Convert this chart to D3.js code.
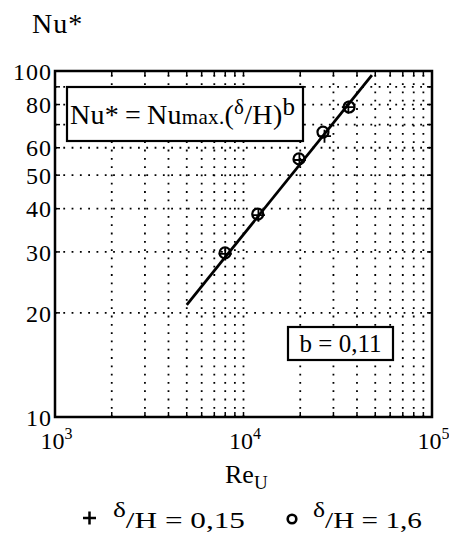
<!DOCTYPE html>
<html><head><meta charset="utf-8">
<script src="https://cdn.jsdelivr.net/npm/d3@7"></script>
<style>body{margin:0;background:#fff} svg{display:block} text{font-family:"Liberation Serif",serif;fill:#000}</style>
</head><body><svg id="c" width="449" height="542"></svg>
<script>
// ---- data ----
const reCircle = [7980, 11900, 19700, 26400, 36300];
const nuCircle = [29.8, 38.6, 55.7, 66.6, 78.7];
const rePlus = [8000, 12000, 19800, 26900, 36000];
const nuPlus = [29.6, 38.3, 55.3, 64.8, 78.6];
const fitRe = [5000, 48000];
const fitNu = [21.1, 97.3];
const yTickLabels = [10, 20, 30, 40, 50, 60, 80, 100];
const xTickExps = [3, 4, 5];
const yGrid = [20, 30, 40, 50, 60, 70, 80, 90];
const xGrid = [2000, 3000, 4000, 5000, 6000, 7000, 8000, 9000, 10000,
               20000, 30000, 40000, 50000, 60000, 70000, 80000, 90000];
const legendLabels = ["0,15", "1,6"];

// ---- layout ----
const L = 55, R = 432, T = 71, B = 417;
const svg = d3.select("#c");
const x = d3.scaleLog().domain([1e3, 1e5]).range([L, R]);
const y = d3.scaleLog().domain([10, 100]).range([B, T]);

// grid
const g = svg.append("g");
g.selectAll("line.gx").data(xGrid).join("line")
  .attr("x1", d => x(d)).attr("x2", d => x(d)).attr("y1", B).attr("y2", T)
  .attr("stroke", "#000").attr("stroke-width", 1.8).attr("stroke-dasharray", "1.8,6.5");
g.selectAll("line.gy").data(yGrid).join("line")
  .attr("y1", d => y(d)).attr("y2", d => y(d)).attr("x1", L).attr("x2", R)
  .attr("stroke", "#000").attr("stroke-width", 1.8).attr("stroke-dasharray", "1.8,6.5");

// inner ticks
const tk = 5;
g.selectAll("line.tl").data(yGrid).join("line")
  .attr("x1", L).attr("x2", L + tk).attr("y1", d => y(d)).attr("y2", d => y(d))
  .attr("stroke", "#000").attr("stroke-width", 1.5);
g.selectAll("line.tr").data(yGrid).join("line")
  .attr("x1", R).attr("x2", R - tk).attr("y1", d => y(d)).attr("y2", d => y(d))
  .attr("stroke", "#000").attr("stroke-width", 1.5);
g.selectAll("line.tb").data(xGrid).join("line")
  .attr("x1", d => x(d)).attr("x2", d => x(d)).attr("y1", B).attr("y2", B - tk)
  .attr("stroke", "#000").attr("stroke-width", 1.5);
g.selectAll("line.tt").data(xGrid).join("line")
  .attr("x1", d => x(d)).attr("x2", d => x(d)).attr("y1", T).attr("y2", T + tk)
  .attr("stroke", "#000").attr("stroke-width", 1.5);

// frame
svg.append("rect").attr("x", L).attr("y", T).attr("width", R - L).attr("height", B - T)
  .attr("fill", "none").attr("stroke", "#000").attr("stroke-width", 2.5);

// y axis labels
const ya = svg.append("g").attr("transform", `translate(${L - 3},0)`)
  .call(d3.axisLeft(y).tickValues(yTickLabels).tickSize(0).tickPadding(0).tickFormat(d3.format("d")));
ya.select(".domain").remove();
ya.selectAll("text").attr("font-family", "Liberation Serif").attr("font-size", 24)
  .attr("letter-spacing", 1).attr("fill", "#000").attr("dy", "0.34em");

// x axis labels
const xa = svg.append("g").attr("transform", `translate(0,${B})`)
  .call(d3.axisBottom(x).tickValues(xTickExps.map(e => Math.pow(10, e))).tickSize(0).tickFormat(""));
xa.select(".domain").remove();
xa.selectAll(".tick").each(function(d, i) {
  const t = d3.select(this).append("text").attr("x", -15).attr("y", 32)
    .attr("text-anchor", "start").attr("font-family", "Liberation Serif").attr("fill", "#000");
  t.append("tspan").attr("font-size", 24).text("10");
  t.append("tspan").attr("font-size", 16).attr("dy", -10).text(xTickExps[i]);
});

// fit line
svg.append("path")
  .attr("d", d3.line().x(d => x(d[0])).y(d => y(d[1]))(fitRe.map((r, i) => [r, fitNu[i]])))
  .attr("stroke", "#000").attr("stroke-width", 2.8).attr("fill", "none");

// markers
svg.selectAll("circle.pt").data(reCircle).join("circle")
  .attr("cx", d => x(d)).attr("cy", (d, i) => y(nuCircle[i])).attr("r", 5.5)
  .attr("fill", "none").attr("stroke", "#000").attr("stroke-width", 2.2);
const ps = 6.5;
svg.selectAll("path.plus").data(rePlus).join("path")
  .attr("d", (d, i) => { const cx = x(d), cy = y(nuPlus[i]);
    return `M${cx - ps},${cy}H${cx + ps}M${cx},${cy - ps}V${cy + ps}`; })
  .attr("stroke", "#000").attr("stroke-width", 1.8).attr("fill", "none");

// formula box
svg.append("rect").attr("x", 67).attr("y", 87).attr("width", 236).attr("height", 54)
  .attr("fill", "#fff").attr("stroke", "#000").attr("stroke-width", 2.2);
const f = svg.append("text").attr("x", 70).attr("y", 124).attr("font-size", 28).attr("letter-spacing", 0.3);
f.append("tspan").text("Nu*\u2009=\u2009Nu");
f.append("tspan").attr("font-size", 21).text("max.");
f.append("tspan").text("(");
f.append("tspan").attr("font-size", 21).attr("dy", -10).text("δ");
f.append("tspan").attr("dy", 10).text("/H)");
f.append("tspan").attr("font-size", 25).attr("dy", -9).text("b");

// b box
svg.append("rect").attr("x", 288).attr("y", 327).attr("width", 105).attr("height", 33)
  .attr("fill", "#fff").attr("stroke", "#000").attr("stroke-width", 2.2);
svg.append("text").attr("x", 340.5).attr("y", 352).attr("text-anchor", "middle")
  .attr("font-size", 25).text("b = 0,11");

// titles
svg.append("text").attr("x", 32).attr("y", 33).attr("font-size", 28).attr("letter-spacing", 1).text("Nu*");
const xt = svg.append("text").attr("x", 225).attr("y", 483).attr("font-size", 26);
xt.append("tspan").text("Re");
xt.append("tspan").attr("font-size", 19).attr("dy", 6).text("U");

// legend
svg.append("path").attr("d", "M83,518H96M89.5,511.5V524.5").attr("stroke", "#000").attr("stroke-width", 2.5);
svg.append("circle").attr("cx", 292).attr("cy", 519).attr("r", 4.3)
  .attr("fill", "none").attr("stroke", "#000").attr("stroke-width", 2.6);
const legX = [113, 313], legW = [132, 109];
legX.forEach((lx, i) => {
  const t = svg.append("text").attr("x", lx).attr("y", 528).attr("font-size", 24)
    .attr("textLength", legW[i]).attr("lengthAdjust", "spacingAndGlyphs");
  t.append("tspan").attr("font-size", 21).attr("dy", -11).text("δ");
  t.append("tspan").attr("dy", 11).text("/H = " + legendLabels[i]);
});
</script></body></html>
